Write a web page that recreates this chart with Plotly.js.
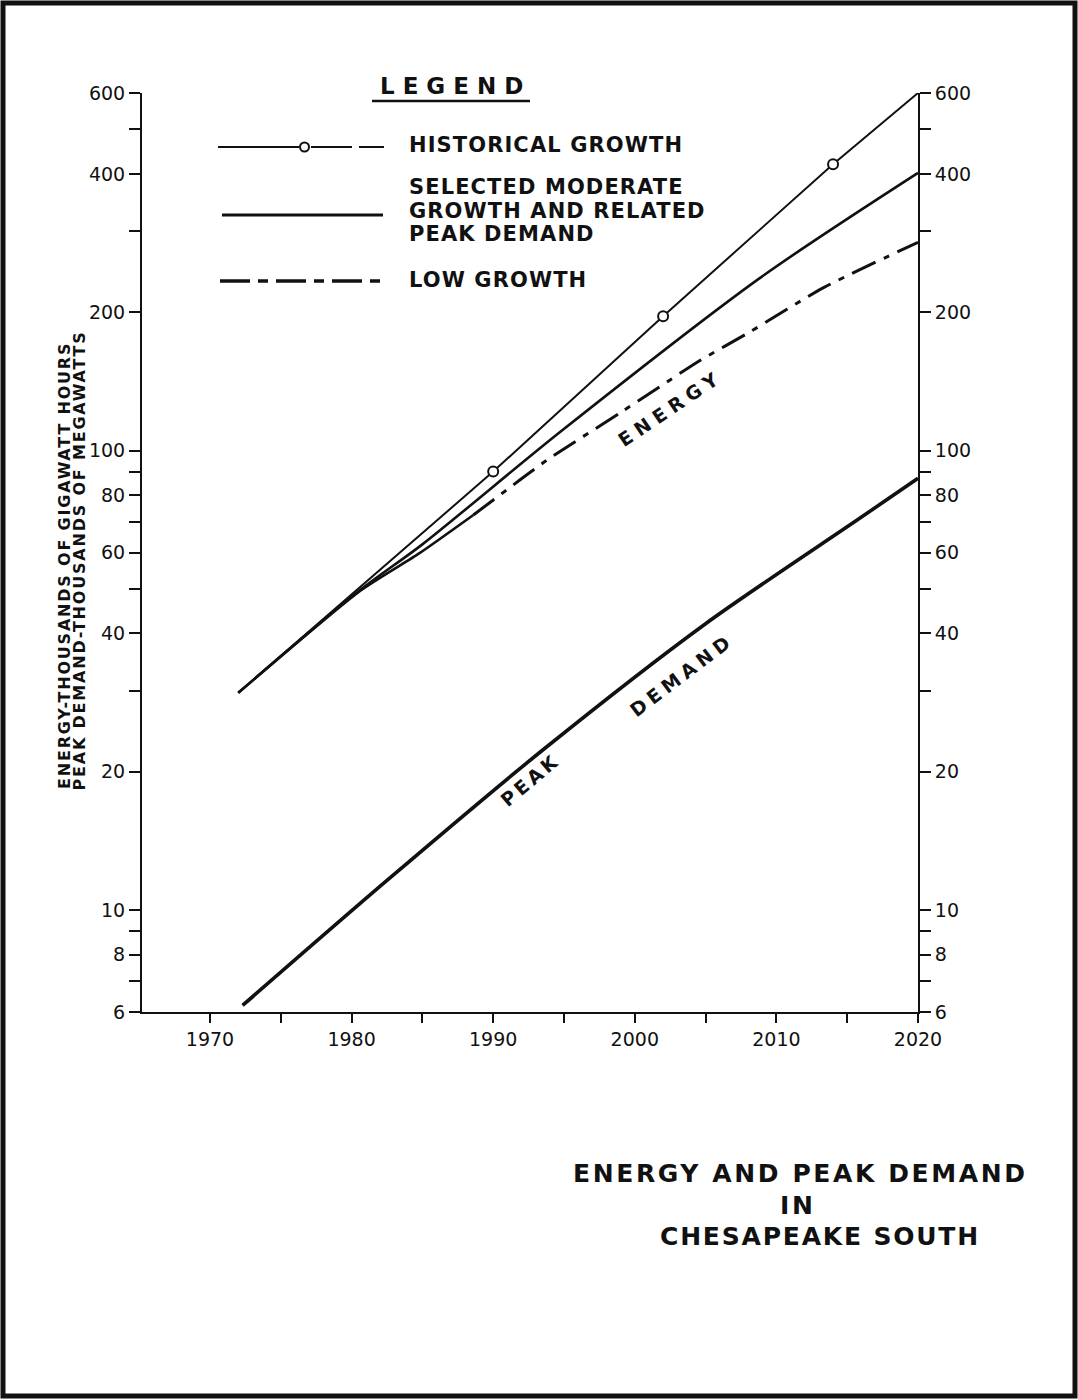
<!DOCTYPE html>
<html>
<head>
<meta charset="utf-8">
<script src="https://cdn.plot.ly/plotly-3.0.1.min.js"></script>
<style>
  html, body { margin: 0; padding: 0; background: #ffffff; }
  #chart { width: 1078px; height: 1400px; }
</style>
</head>
<body>
<div id="chart"></div>
<script>
// ---- data ----
const histYears   = [1972, 1980.6, 1990, 2002, 2014, 2020];
const histValues  = [29.7, 50.5, 90, 196, 420, 600];
const histMarkerYears  = [1990, 2002, 2014];
const histMarkerValues = [90, 196, 420];

const moderateYears  = [1972, 1980.6, 1985, 1994.7, 2008.8, 2020];
const moderateValues = [29.7, 49.7, 62.5, 109.6, 237, 402];

const lowYears  = [1972, 1980.6, 1984.8, 1988.6, 1993.8, 1999, 2004.6, 2008.1, 2013.3, 2020];
const lowValues = [29.7, 49.5, 59.8, 72.4, 95.3, 121, 157, 181, 226, 284];
const lowDashFromYear = 1988.6;

const peakYears  = [1972.3, 1982.5, 1993.5, 2005, 2015.7, 2020];
const peakValues = [6.2, 11.6, 22.3, 42, 70.6, 87];

const xTickVals = [1970, 1975, 1980, 1985, 1990, 1995, 2000, 2005, 2010, 2015, 2020];
const xTickText = ['1970', '', '1980', '', '1990', '', '2000', '', '2010', '', '2020'];
const yTickVals = [6, 7, 8, 9, 10, 20, 30, 40, 50, 60, 70, 80, 90, 100, 200, 300, 400, 500, 600];
const yTickText = ['6', '', '8', '', '10', '20', '', '40', '', '60', '', '80', '', '100', '200', '', '400', '', '600'];

const legendLabels = ['HISTORICAL GROWTH', 'SELECTED MODERATE', 'GROWTH AND RELATED', 'PEAK DEMAND', 'LOW GROWTH'];
const titleLines = ['ENERGY AND PEAK DEMAND', 'IN', 'CHESAPEAKE SOUTH'];
const yTitleLines = ['ENERGY-THOUSANDS OF GIGAWATT HOURS', 'PEAK DEMAND-THOUSANDS OF MEGAWATTS'];

// ---- layout geometry ----
const W = 1078, H = 1400;
const L = 142, R = 918, T = 93, B = 1012;
const px = x => (x - L) / (R - L);
const py = y => (B - y) / (B - T);
const FONT = 'DejaVu Sans, Liberation Sans, sans-serif';
const INK = '#111111';
const spaced = (t, s, bold) => (bold ? '<b>' : '') + '<span style="letter-spacing:' + s + 'px">' + t + '</span>' + (bold ? '</b>' : '');

const lowSolidIdx = lowYears.filter(y => y <= lowDashFromYear).length;

const traces = [
  { x: histYears, y: histValues, mode: 'lines', line: { color: INK, width: 2 }, name: 'HISTORICAL GROWTH', showlegend: false, hoverinfo: 'skip' },
  { x: histMarkerYears, y: histMarkerValues, mode: 'markers', marker: { symbol: 'circle', size: 10, color: '#ffffff', line: { color: INK, width: 2 } }, name: 'HISTORICAL GROWTH', showlegend: false, hoverinfo: 'skip' },
  { x: moderateYears, y: moderateValues, mode: 'lines', line: { color: INK, width: 2.6, shape: 'spline', smoothing: 0.8 }, name: 'SELECTED MODERATE GROWTH', showlegend: false, hoverinfo: 'skip' },
  { x: lowYears.slice(0, lowSolidIdx), y: lowValues.slice(0, lowSolidIdx), mode: 'lines', line: { color: INK, width: 2.6, shape: 'spline', smoothing: 0.6 }, name: 'LOW GROWTH', showlegend: false, hoverinfo: 'skip' },
  { x: lowYears.slice(lowSolidIdx - 1), y: lowValues.slice(lowSolidIdx - 1), mode: 'lines', line: { color: INK, width: 3, dash: '26px,9px,6px,9px', shape: 'spline', smoothing: 0.6 }, name: 'LOW GROWTH', showlegend: false, hoverinfo: 'skip' },
  { x: peakYears, y: peakValues, mode: 'lines', line: { color: INK, width: 3.6, shape: 'spline', smoothing: 0.8 }, name: 'PEAK DEMAND', showlegend: false, hoverinfo: 'skip' },
  { x: [], y: [], yaxis: 'y2', mode: 'lines', showlegend: false, hoverinfo: 'skip' }
];

const yAxisCommon = {
  type: 'log',
  range: [Math.log10(6), Math.log10(600)],
  tickmode: 'array', tickvals: yTickVals, ticktext: yTickText,
  ticks: 'outside', ticklen: 11, tickwidth: 2, tickcolor: INK,
  showline: true, linewidth: 2, linecolor: INK,
  showgrid: false, zeroline: false,
  tickfont: { family: FONT, size: 19, color: INK }
};

const shapes = [];
const annotations = [];

// page border (scanned frame)
shapes.push({ type: 'rect', xref: 'paper', yref: 'paper', x0: px(3), x1: px(1075), y0: py(1396), y1: py(3), line: { color: INK, width: 5 } });

// manual legend
annotations.push({ xref: 'paper', yref: 'paper', x: px(455), y: py(86), text: spaced('LEGEND', 8, true), showarrow: false, xanchor: 'center', yanchor: 'middle', font: { family: FONT, size: 23, color: INK } });
shapes.push({ type: 'line', xref: 'paper', yref: 'paper', x0: px(372), x1: px(530), y0: py(101), y1: py(101), line: { color: INK, width: 2.5 } });
// historical sample
shapes.push({ type: 'line', xref: 'paper', yref: 'paper', x0: px(218), x1: px(299), y0: py(147), y1: py(147), line: { color: INK, width: 2 } });
shapes.push({ type: 'circle', xref: 'paper', yref: 'paper', x0: px(300), x1: px(309), y0: py(151.5), y1: py(142.5), line: { color: INK, width: 2 } });
shapes.push({ type: 'line', xref: 'paper', yref: 'paper', x0: px(311), x1: px(352), y0: py(147), y1: py(147), line: { color: INK, width: 2 } });
shapes.push({ type: 'line', xref: 'paper', yref: 'paper', x0: px(359), x1: px(384), y0: py(147), y1: py(147), line: { color: INK, width: 2 } });
// moderate sample
shapes.push({ type: 'line', xref: 'paper', yref: 'paper', x0: px(222), x1: px(383), y0: py(215), y1: py(215), line: { color: INK, width: 3 } });
// low growth sample
shapes.push({ type: 'line', xref: 'paper', yref: 'paper', x0: px(220), x1: px(383), y0: py(281), y1: py(281), line: { color: INK, width: 3.5, dash: '30px,8px,10px,8px' } });

const legendText = [
  [legendLabels[0], 145],
  [legendLabels[1], 187],
  [legendLabels[2], 211],
  [legendLabels[3], 234],
  [legendLabels[4], 280]
];
legendText.forEach(([t, y]) => annotations.push({ xref: 'paper', yref: 'paper', x: px(407), y: py(y), text: spaced(t, 1.1, true), showarrow: false, xanchor: 'left', yanchor: 'middle', font: { family: FONT, size: 21, color: INK } }));

// curve labels (data coordinates; log axis uses log10 values)
annotations.push({ x: 2002.5, y: 2.092, xref: 'x', yref: 'y', text: spaced('ENERGY', 6, true), textangle: -34, showarrow: false, font: { family: FONT, size: 19, color: INK } });
annotations.push({ x: 1992.6, y: 1.283, xref: 'x', yref: 'y', text: spaced('PEAK', 3.5, true), textangle: -40, showarrow: false, font: { family: FONT, size: 19, color: INK } });
annotations.push({ x: 2003.3, y: 1.511, xref: 'x', yref: 'y', text: spaced('DEMAND', 5, true), textangle: -37, showarrow: false, font: { family: FONT, size: 19, color: INK } });

// y-axis title, two tight lines
annotations.push({ xref: 'paper', yref: 'paper', x: px(64), y: py(566), text: spaced(yTitleLines[0], 1.8, true), textangle: -90, showarrow: false, xanchor: 'center', yanchor: 'middle', font: { family: FONT, size: 16, color: INK } });
annotations.push({ xref: 'paper', yref: 'paper', x: px(78.5), y: py(561), text: spaced(yTitleLines[1], 1.8, true), textangle: -90, showarrow: false, xanchor: 'center', yanchor: 'middle', font: { family: FONT, size: 16, color: INK } });

// chart title, bottom right
[[titleLines[0], 800, 1173, 2.6], [titleLines[1], 797, 1205, 2.6], [titleLines[2], 820, 1236, 1.8]].forEach(([t, x, y, s]) => annotations.push({ xref: 'paper', yref: 'paper', x: px(x), y: py(y), text: spaced(t, s, true), showarrow: false, xanchor: 'center', yanchor: 'middle', font: { family: FONT, size: 25, color: INK } }));

const layout = {
  width: W, height: H,
  margin: { l: L, r: W - R, t: T, b: H - B, pad: 0 },
  paper_bgcolor: '#ffffff', plot_bgcolor: 'rgba(0,0,0,0)',
  showlegend: false,
  font: { family: FONT, color: INK },
  xaxis: {
    range: [1965.2, 2020],
    tickmode: 'array', tickvals: xTickVals, ticktext: xTickText,
    ticks: 'outside', ticklen: 9, tickwidth: 2, tickcolor: INK,
    showline: true, linewidth: 2, linecolor: INK,
    showgrid: false, zeroline: false,
    tickfont: { family: FONT, size: 19, color: INK }
  },
  yaxis: Object.assign({}, yAxisCommon, { side: 'left' }),
  yaxis2: Object.assign({}, yAxisCommon, { side: 'right', overlaying: 'y', anchor: 'x' }),
  shapes: shapes,
  annotations: annotations
};

Plotly.newPlot('chart', traces, layout, { staticPlot: true, displayModeBar: false });
</script>
</body>
</html>
